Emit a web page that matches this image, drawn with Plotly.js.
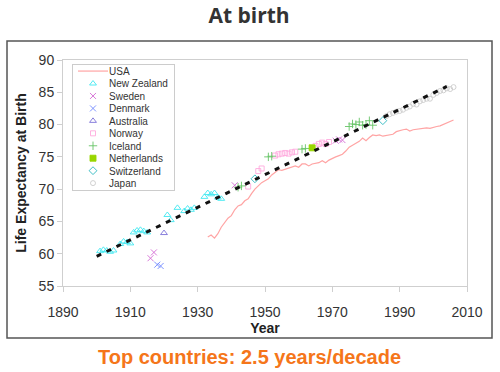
<!DOCTYPE html>
<html>
<head>
<meta charset="utf-8">
<script src="https://cdn.plot.ly/plotly-3.0.1.min.js"></script>
<style>html,body{margin:0;padding:0;background:#fff;}#chart{width:500px;height:372px;}</style>
</head>
<body>
<div id="chart"></div>
<script>
// ---- data ----
const usaYears = [1933,1934,1935,1936,1937,1938,1939,1940,1941,1942,1943,1944,1945,1946,1947,1948,1949,1950,1951,1952,1953,1954,1955,1956,1957,1958,1959,1960,1961,1962,1963,1964,1965,1966,1967,1968,1969,1970,1971,1972,1973,1974,1975,1976,1977,1978,1979,1980,1981,1982,1983,1984,1985,1986,1987,1988,1989,1990,1991,1992,1993,1994,1995,1996,1997,1998,1999,2000,2001,2002,2003,2004,2005,2006];
const usaValues = [62.6,62.9,62.4,63.1,64.1,64.9,65.5,65.9,66.8,67.4,67.6,68.2,68.5,69.3,70.0,70.5,71.0,71.3,71.6,72.2,72.6,73.0,72.9,73.1,73.2,73.4,73.6,73.4,73.9,73.9,73.6,73.9,74.0,74.1,74.4,74.1,74.5,74.8,75.0,75.2,75.4,75.9,76.5,76.8,77.1,77.4,77.9,77.5,78.0,78.4,78.3,78.4,78.2,78.3,78.5,78.5,78.9,79.1,79.2,79.3,79.0,79.2,79.3,79.4,79.4,79.5,79.4,79.6,79.7,79.8,80.0,80.3,80.5,80.7];

const nzYears = [1901,1902,1903,1904,1905,1907,1908,1909,1910,1911,1912,1913,1914,1915,1921,1922,1924,1926,1927,1928,1929,1932,1933,1934,1935,1936,1937];
const nzValues = [60.4,60.6,60.5,60.3,60.5,61.5,61.9,61.8,61.6,63.3,63.6,63.7,63.5,63.3,66.0,65.2,67.1,66.6,67.0,66.8,67.1,68.8,69.4,69.2,69.4,68.7,68.5];

const swedenYears = [1916,1917,1941,1971,1972,1973];
const swedenValues = [59.3,60.2,70.6,77.5,77.7,77.6];

const denmarkYears = [1918,1919];
const denmarkValues = [58.3,58.1];

const australiaYears = [1920];
const australiaValues = [63.2];

const norwayYears = [1945,1948,1949,1953,1954,1955,1956,1957,1958,1959,1965,1966,1967,1968,1969];
const norwayValues = [70.4,72.8,73.2,75.2,75.4,75.5,75.6,75.5,75.7,75.8,76.7,77.0,77.2,77.0,77.3];

const icelandYears = [1942,1943,1951,1952,1961,1962,1975,1976,1977,1978,1979,1980,1981,1982];
const icelandValues = [70.3,70.5,75.0,75.1,76.2,76.3,79.7,80.1,80.0,80.4,79.9,80.0,80.6,79.9];

const netherlandsYears = [1964];
const netherlandsValues = [76.4];

const switzerlandYears = [1947,1985];
const switzerlandValues = [71.6,80.6];

const japanYears = [1986,1987,1988,1989,1990,1991,1992,1993,1994,1995,1996,1997,1998,1999,2000,2001,2002,2003,2004,2005,2006];
const japanValues = [81.3,81.6,81.8,82.0,82.1,82.3,82.6,82.8,83.2,83.1,83.6,83.8,84.0,84.0,84.6,84.9,85.2,85.3,85.6,85.5,85.8];

const trendYears = [1900,2004];
const trendValues = [59.6,85.9];

const xTicks = [1890,1910,1930,1950,1970,1990,2010];
const yTicks = [55,60,65,70,75,80,85,90];

// ---- traces ----
function pts(name, x, y, symbol, color, size) {
  return {type:'scatter', mode:'markers', name:name, x:x, y:y,
    marker:{symbol:symbol, color:color, size:size||6, line:{color:color, width:0.9}}};
}
const data = [
  {type:'scatter', mode:'lines', name:'USA', x:usaYears, y:usaValues,
   line:{color:'#ffa4a4', width:1.2}},
  pts('New Zealand', nzYears, nzValues, 'triangle-up-open', '#3ee8f0', 6),
  pts('Sweden', swedenYears, swedenValues, 'x-thin-open', '#d46ad4', 6),
  pts('Denmark', denmarkYears, denmarkValues, 'x-thin-open', '#6f88ff', 6),
  pts('Australia', australiaYears, australiaValues, 'triangle-up-open', '#7c70d8', 6),
  pts('Norway', norwayYears, norwayValues, 'square-open', '#ffaade', 5),
  pts('Iceland', icelandYears, icelandValues, 'cross-thin-open', '#66c466', 6),
  pts('Netherlands', netherlandsYears, netherlandsValues, 'square', '#99d600', 6),
  pts('Switzerland', switzerlandYears, switzerlandValues, 'diamond-open', '#2cb8c0', 6),
  pts('Japan', japanYears, japanValues, 'circle-open', '#cccccc', 5),
  {type:'scatter', mode:'lines', name:'trend', showlegend:false, x:trendYears, y:trendValues,
   line:{color:'#111', width:3, dash:'5px,6px'}}
];

const tickFont = {family:'Liberation Sans, Arial, sans-serif', size:14, color:'#333'};
const layout = {
  width:500, height:372,
  margin:{l:63, r:33, t:60, b:86},
  paper_bgcolor:'#fff', plot_bgcolor:'#fff',
  showlegend:true,
  title:{text:'At birth', xref:'container', x:0.498, yref:'container', y:0.958, yanchor:'middle',
         font:{family:'Open Sans, Liberation Sans, sans-serif', size:21, color:'#333', weight:'bold'}},
  xaxis:{range:[1890,2010], tickvals:xTicks, ticktext:xTicks.map(String),
    showgrid:false, zeroline:false, showline:true, mirror:true, linecolor:'#cfcfcf', linewidth:1,
    ticks:'outside', ticklen:5, tickcolor:'#cfcfcf', tickfont:tickFont, ticklabelstandoff:8,
    title:{text:'Year', standoff:4, font:{family:'Liberation Sans, Arial, sans-serif', size:14, color:'#222', weight:'bold'}}},
  yaxis:{range:[55,90], tickvals:yTicks, ticktext:yTicks.map(String),
    showgrid:false, zeroline:false, showline:true, mirror:true, linecolor:'#cfcfcf', linewidth:1,
    ticks:'outside', ticklen:5, tickcolor:'#cfcfcf', tickfont:tickFont,
    title:{text:'Life Expectancy at Birth', standoff:8, font:{family:'Liberation Sans, Arial, sans-serif', size:14, color:'#222', weight:'bold'}}},
  legend:{x:0.0223, y:0.982, xanchor:'left', yanchor:'top', bgcolor:'#fff', bordercolor:'#cccccc', borderwidth:1,
    font:{family:'Liberation Sans, Arial, sans-serif', size:10, color:'#333'}},
  shapes:[{type:'rect', xref:'paper', yref:'paper', x0:-0.1386, x1:1.0619, y0:-0.230, y1:1.084,
    line:{color:'#555', width:1.5}, fillcolor:'rgba(0,0,0,0)', layer:'below'}],
  annotations:[{text:'Top countries: 2.5 years/decade', xref:'paper', yref:'paper', x:0.4604, y:-0.314,
    xanchor:'center', yanchor:'middle', showarrow:false,
    font:{family:'Liberation Sans, Arial, sans-serif', size:20, color:'#f5761a', weight:'bold'}}]
};

const gd = document.getElementById('chart');
Plotly.newPlot(gd, data, layout, {staticPlot:true, displayModeBar:false}).then(function(){
  // compact the legend rows to match the reference spacing
  const leg = gd.querySelector('.legend');
  if (!leg) return;
  const items = leg.querySelectorAll('.traces');
  const step = 12.45, top = 7;
  items.forEach(function(g, i){
    const m = /translate\(\s*([-\d.e]+)[ ,]+([-\d.e]+)\s*\)/.exec(g.getAttribute('transform') || '');
    const x = m ? parseFloat(m[1]) : 0;
    g.setAttribute('transform', 'translate(' + x + ',' + (top + i*step) + ')');
    const t = g.querySelector('text.legendtext');
    if (t) t.setAttribute('x', 36);
  });
  const h = (top*2 + (items.length-1)*step).toFixed(1);
  leg.querySelectorAll('rect.bg').forEach(function(bg){
    bg.setAttribute('height', h);
    bg.setAttribute('width', 102);
    bg.style.width = '102px';
    bg.style.height = h + 'px';
  });
});
</script>
</body>
</html>
